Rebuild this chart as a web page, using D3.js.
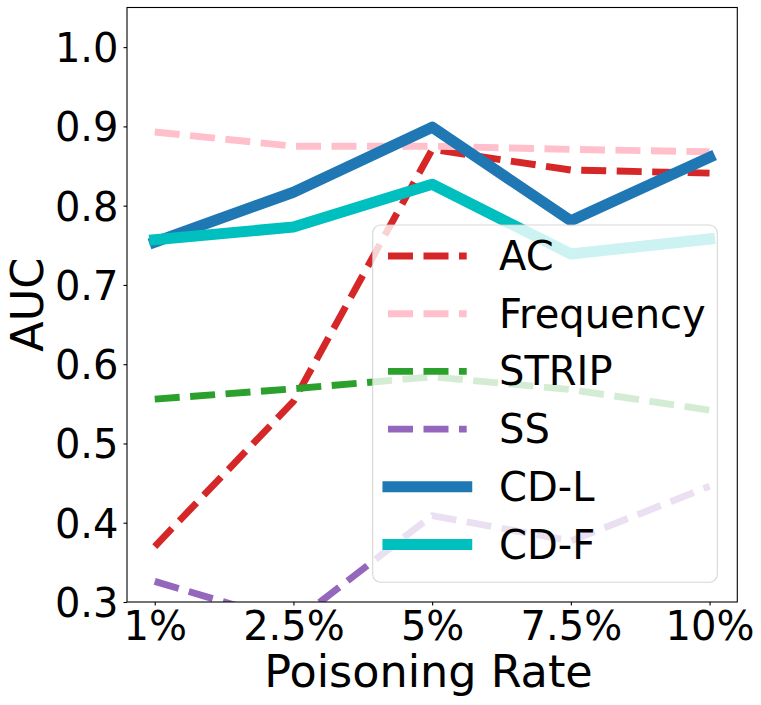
<!DOCTYPE html>
<html>
<head>
<meta charset="utf-8">
<script src="https://cdn.jsdelivr.net/npm/d3@7"></script>
<style>
  body { margin: 0; background: #fff; }
  svg { font-family: "DejaVu Sans", sans-serif; }
</style>
</head>
<body>
<svg width="761" height="705"></svg>
<script>
// values
const rates = ["1%", "2.5%", "5%", "7.5%", "10%"];
const yTicks = [0.3, 0.4, 0.5, 0.6, 0.7, 0.8, 0.9, 1.0];

const ac = [0.370, 0.553, 0.871, 0.845, 0.841];
const frequency = [0.893, 0.875, 0.875, 0.871, 0.868];
const strip = [0.556, 0.569, 0.584, 0.568, 0.542];
const ss = [0.326, 0.274, 0.409, 0.377, 0.446];
const cdl = [0.754, 0.817, 0.899, 0.781, 0.861];
const cdf = [0.757, 0.773, 0.827, 0.739, 0.758];

const seriesNames = ["AC", "Frequency", "STRIP", "SS", "CD-L", "CD-F"];
const seriesValues = [ac, frequency, strip, ss, cdl, cdf];
const seriesColors = ["#d62728", "#ffc0cb", "#2ca02c", "#9467bd", "#1f77b4", "#00bfbf"];
const seriesDashed = [true, true, true, true, false, false];

const svg = d3.select("svg");
const plotL = 127, plotR = 737.3, plotT = 7.5, plotB = 602;

const x = d3.scaleLinear().domain([-0.2, 4.2]).range([plotL, plotR]);
const y = d3.scaleLinear().domain([0.3, 1.05]).range([plotB, plotT]);

svg.append("defs").append("clipPath").attr("id", "plot")
  .append("rect")
  .attr("x", plotL).attr("y", plotT)
  .attr("width", plotR - plotL).attr("height", plotB - plotT);

const line = d3.line()
  .x((d, i) => x(i))
  .y(d => y(d));

const lines = svg.append("g").attr("clip-path", "url(#plot)");
seriesValues.forEach((vals, k) => {
  lines.append("path")
    .datum(vals)
    .attr("d", line)
    .attr("fill", "none")
    .attr("stroke", seriesColors[k])
    .attr("stroke-width", seriesDashed[k] ? 6.9 : 11.1)
    .attr("stroke-dasharray", seriesDashed[k] ? "25,10.5" : null)
    .attr("stroke-linecap", seriesDashed[k] ? "butt" : "square")
    .attr("stroke-linejoin", "round");
});

// axes
const xAxis = svg.append("g")
  .attr("transform", `translate(0,${plotB})`)
  .call(d3.axisBottom(x).tickValues(d3.range(rates.length))
    .tickFormat(i => rates[i]).tickSize(3.5).tickPadding(6).tickSizeOuter(0));
const yAxis = svg.append("g")
  .attr("transform", `translate(${plotL},0)`)
  .call(d3.axisLeft(y).tickValues(yTicks)
    .tickFormat(d3.format(".1f")).tickSize(3.5).tickPadding(5).tickSizeOuter(0));

[xAxis, yAxis].forEach(a => {
  a.select(".domain").remove();
  a.selectAll("line").attr("stroke", "#000").attr("stroke-width", 1.1);
  a.selectAll("text")
    .attr("fill", "#000")
    .style("font-size", "40px")
    .style("font-family", "DejaVu Sans");
});
xAxis.selectAll("text").attr("dy", "0.71em");
yAxis.selectAll("text").attr("dy", "0.36em");

svg.append("rect")
  .attr("x", plotL).attr("y", plotT)
  .attr("width", plotR - plotL).attr("height", plotB - plotT)
  .attr("fill", "none").attr("stroke", "#000").attr("stroke-width", 1.1);

svg.append("text")
  .attr("x", 428.5).attr("y", 686.5)
  .attr("text-anchor", "middle")
  .style("font-size", "44.5px")
  .text("Poisoning Rate");

svg.append("text")
  .attr("transform", `translate(43,${(plotT + plotB) / 2}) rotate(-90)`)
  .attr("text-anchor", "middle")
  .style("font-size", "44.5px")
  .text("AUC");

// legend
const legend = svg.append("g");
legend.append("rect")
  .attr("x", 372.7).attr("y", 225)
  .attr("width", 344.6).attr("height", 357.3)
  .attr("rx", 8).attr("ry", 8)
  .attr("fill", "#fff").attr("fill-opacity", 0.8)
  .attr("stroke", "#cccccc").attr("stroke-opacity", 0.8).attr("stroke-width", 1.1);

const rows = legend.selectAll("g.row")
  .data(seriesNames)
  .join("g")
  .attr("class", "row")
  .attr("transform", (d, i) => `translate(0,${256 + i * 57.7})`);

rows.append("line")
  .attr("x1", 388).attr("x2", 466.7)
  .attr("stroke", (d, i) => seriesColors[i])
  .attr("stroke-width", (d, i) => seriesDashed[i] ? 6.9 : 11.1)
  .attr("stroke-dasharray", (d, i) => seriesDashed[i] ? "25,10.5" : null)
  .attr("stroke-linecap", (d, i) => seriesDashed[i] ? "butt" : "square");

rows.append("text")
  .attr("x", 499)
  .attr("y", 14)
  .style("font-size", "40px")
  .text(d => d);
</script>
</body>
</html>
